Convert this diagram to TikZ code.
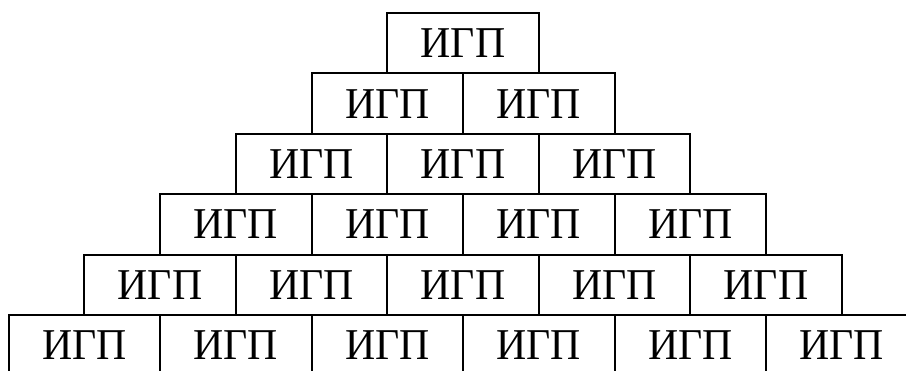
\documentclass[tikz,border=0pt]{standalone}
\usepackage{fontspec}
\setmainfont{Liberation Serif}
\tikzset{
  brick/.style={draw=black, line width=2pt, rectangle, minimum width=151.5pt,
    minimum height=60.4pt, inner sep=0pt, font=\fontsize{44}{50}\selectfont,
    text=black, anchor=center}
}
\newcommand{\brickword}{\scalebox{0.95}[1.0]{ИГП}}
\begin{document}
\begin{tikzpicture}[x=1pt,y=1pt]
\clip (0,0) rectangle (906,-371);
\fill[white] (0,0) rectangle (906,-371);
\foreach \r in {1,...,6}{
  \foreach \k in {1,...,\r}{
    \pgfmathsetmacro{\cx}{387.3-(\r-1)*75.75+(\k-1)*151.5+75.75}
    \pgfmathsetmacro{\cy}{-(13+(\r-1)*60.4+30.2)}
    \node[brick] (b-\r-\k) at (\cx,\cy) {\brickword};
  }
}
\end{tikzpicture}
\end{document}
